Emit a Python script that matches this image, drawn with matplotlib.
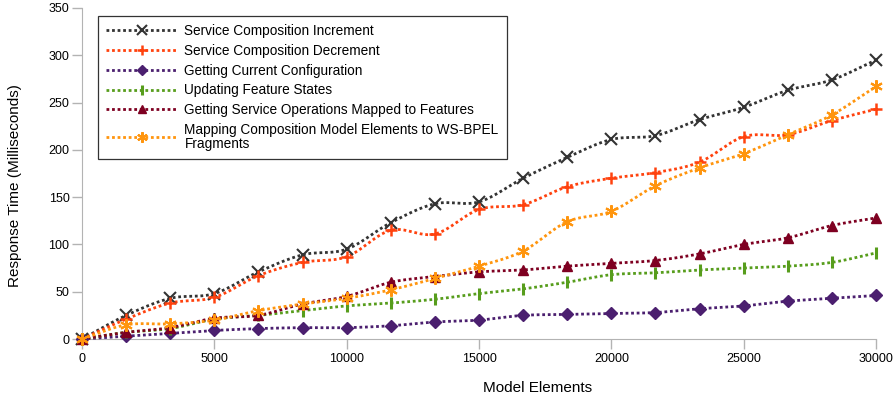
import numpy as np
import matplotlib
matplotlib.use("Agg")
import matplotlib.pyplot as plt
from matplotlib.lines import Line2D

x_values = [0, 1667, 3333, 5000, 6667, 8333, 10000, 11667, 13333, 15000,
            16667, 18333, 20000, 21667, 23333, 25000, 26667, 28333, 30000]

increment = [0, 25, 43, 48, 71, 89, 95, 123, 143, 145, 170, 192, 211, 215, 232, 245, 263, 274, 295]
decrement = [0, 21, 38, 44, 67, 81, 87, 115, 111, 137, 142, 161, 170, 176, 187, 214, 216, 231, 243]
current_config = [0, 3, 6, 9, 11, 12, 12, 14, 18, 20, 25, 26, 27, 28, 32, 35, 40, 43, 46]
feature_states = [0, 7, 11, 21, 25, 30, 35, 38, 42, 48, 53, 60, 68, 70, 73, 75, 77, 81, 91]
service_ops = [0, 7, 12, 22, 25, 37, 45, 60, 66, 71, 73, 77, 80, 83, 90, 100, 107, 120, 128]
mapping = [0, 15, 16, 20, 30, 37, 43, 52, 64, 77, 93, 124, 135, 162, 181, 196, 216, 237, 267]

labels = ["Service Composition Increment",
          "Service Composition Decrement",
          "Getting Current Configuration",
          "Updating Feature States",
          "Getting Service Operations Mapped to Features",
          "Mapping Composition Model Elements to WS-BPEL\nFragments"]
series = [increment, decrement, current_config, feature_states, service_ops, mapping]
colors = ["#333333", "#ff420e", "#4b1f6f", "#579d1c", "#7e0021", "#ff950e"]
markers = ["x", "+", "D", "|", "^", (6, 2, 0)]
msizes = [8, 9, 6, 9, 7, 9]
mews = [1.5, 1.8, 1, 2.2, 1, 1.5]


def catmull_rom(xs, ys, n=24):
    xs = np.asarray(xs, float)
    ys = np.asarray(ys, float)
    px = np.concatenate([[2 * xs[0] - xs[1]], xs, [2 * xs[-1] - xs[-2]]])
    py = np.concatenate([[2 * ys[0] - ys[1]], ys, [2 * ys[-1] - ys[-2]]])
    outx, outy = [], []
    t = np.linspace(0, 1, n, endpoint=False)
    for i in range(1, len(px) - 2):
        for arr, out in ((px, outx), (py, outy)):
            p0, p1, p2, p3 = arr[i - 1], arr[i], arr[i + 1], arr[i + 2]
            out.extend(0.5 * ((2 * p1) + (-p0 + p2) * t +
                              (2 * p0 - 5 * p1 + 4 * p2 - p3) * t ** 2 +
                              (-p0 + 3 * p1 - 3 * p2 + p3) * t ** 3))
    outx.append(xs[-1])
    outy.append(ys[-1])
    return np.array(outx), np.array(outy)


plt.rcParams['font.family'] = ['Liberation Sans', 'DejaVu Sans']
fig = plt.figure(figsize=(8.93, 4.01), dpi=100)
ax = fig.add_axes([82 / 893, 1 - 339 / 401, 794 / 893, 331 / 401])

handles = []
for ys, lab, c, m, ms, mew in zip(series, labels, colors, markers, msizes, mews):
    sx, sy = catmull_rom(x_values, ys)
    ax.plot(sx, sy, color=c, lw=2, ls=(0, (1, 1)), zorder=3, clip_on=False)
    ax.plot(x_values, ys, ls='none', marker=m, ms=ms, color=c, mec=c, mfc=c,
            mew=mew, zorder=4, clip_on=False)
    handles.append(Line2D([0], [0], color=c, lw=2, ls=(0, (1, 1)), marker=m,
                          ms=ms * 0.85, mec=c, mfc=c, mew=mew))

ax.set_xlim(0, 30000)
ax.set_ylim(0, 350)
ax.set_xticks(range(0, 30001, 5000))
ax.set_yticks(range(0, 351, 50))

for lab in ax.get_xticklabels() + ax.get_yticklabels():
    lab.set_fontsize(9)

for s in ['top', 'right']:
    ax.spines[s].set_visible(False)
for s in ['left', 'bottom']:
    ax.spines[s].set_color('#b3b3b3')
ax.tick_params(axis='both', colors='#b3b3b3', labelcolor='#000000', length=7, width=1)
ax.tick_params(axis='x', pad=3)
ax.tick_params(axis='y', pad=2)

ax.set_xlabel("Model Elements", fontsize=11)
ax.xaxis.set_label_coords((538 - 82) / 794, (339 - 388) / 331)
ax.xaxis.label.set_va('center')
ax.set_ylabel("Response Time (Milliseconds)", fontsize=11)
ax.yaxis.set_label_coords((15 - 82) / 794, (339 - 186) / 331)
ax.yaxis.label.set_va('center')

leg = ax.legend(handles, labels, loc='upper left',
                bbox_to_anchor=((98 - 82) / 794, (339 - 16) / 331),
                borderaxespad=0, fontsize=9.8, frameon=True, fancybox=False,
                handlelength=5.3, handletextpad=0.45, labelspacing=0.42,
                borderpad=0.6, numpoints=1)
for t in leg.get_texts():
    t.set_linespacing(1.0)
leg.get_frame().set_edgecolor('#000000')
leg.get_frame().set_linewidth(0.9)

fig.savefig("out.png", dpi=100)
